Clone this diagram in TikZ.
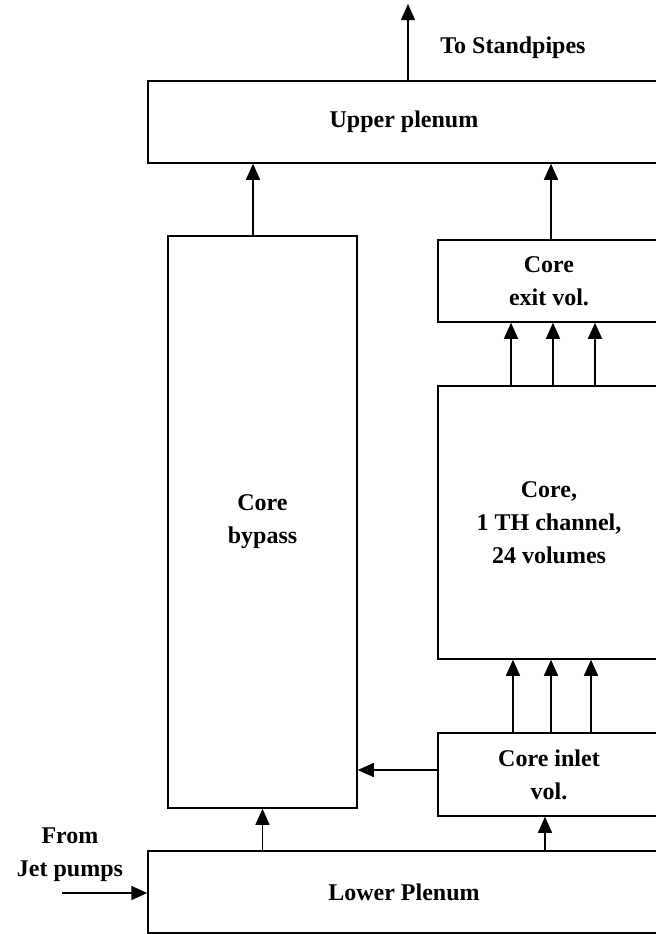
\documentclass[tikz,border=0pt]{standalone}
\usepackage{fontspec}
\setmainfont{Liberation Serif}
\usetikzlibrary{arrows.meta, positioning, calc}

\begin{document}
\begin{tikzpicture}[
  x=0.5pt, y=-0.5pt,
  every node/.style={font=\fontsize{12}{16.5}\selectfont\bfseries, align=center, inner sep=0pt},
  vol/.style={draw, line width=0.75pt, rectangle},
  arr/.style={-{Triangle[length=8pt, width=7pt]}, line width=0.75pt},
]
  \useasboundingbox (0,0) rectangle (656,934);
  \clip (0,0) rectangle (656,934);

  % Volumes
  \node[vol, minimum width=256pt, minimum height=41pt]    (upper)  at (404,122)   {Upper plenum};
  \node[vol, minimum width=94.5pt, minimum height=286pt]  (bypass) at (262.5,522) {Core\\bypass};
  \node[vol, minimum width=111pt, minimum height=41pt]    (exitv)  at (549,281)   {Core\\exit vol.};
  \node[vol, minimum width=111pt, minimum height=136.5pt] (core)   at (549,522.5) {Core,\\1 TH channel,\\24 volumes};
  \node[vol, minimum width=111pt, minimum height=41.5pt]  (inlet)  at (549,774.5) {Core inlet\\vol.};
  \node[vol, minimum width=256pt, minimum height=41pt]    (lower)  at (404,892)   {Lower Plenum};

  % Boundary labels
  \node (tostand) at (513,48)  {To Standpipes};
  \node (fromjet) at (70,855)  {From\\Jet pumps};
  \coordinate (out) at (408,4);
  \coordinate (jet) at (62,893);

  % Flow paths
  \draw[arr] (jet) -- (jet -| lower.west);
  \draw[arr] (lower.north -| bypass.south) -- (bypass.south);
  \draw[arr] ($(lower.north -| inlet.south)+(-4,0)$) -- ($(inlet.south)+(-4,0)$);
  \draw[arr] ($(inlet.west)+(0,-4.5)$) -- ($(bypass.east |- inlet.west)+(0,-4.5)$);
  \foreach \dx in {-36,2,42}
    \draw[arr] ($(inlet.north)+(\dx,0)$) -- ($(core.south)+(\dx,0)$);
  \foreach \dx in {-38,4,46}
    \draw[arr] ($(core.north)+(\dx,0)$) -- ($(exitv.south)+(\dx,0)$);
  \draw[arr] ($(exitv.north)+(2,0)$) -- ($(upper.south -| exitv.north)+(2,0)$);
  \draw[arr] ($(bypass.north)+(-9.5,0)$) -- ($(upper.south -| bypass.north)+(-9.5,0)$);
  \draw[arr] (upper.north -| out) -- (out);
\end{tikzpicture}
\end{document}
